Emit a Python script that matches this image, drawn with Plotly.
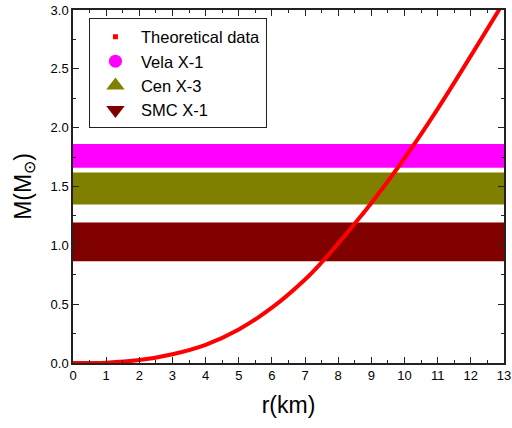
import plotly.graph_objects as go

# Theoretical mass-radius curve
r_km = [0, 1, 2, 3, 4, 5, 6, 7, 7.5, 8, 8.5, 9, 10, 11, 12, 13]
mass = [0, 0.003, 0.025, 0.075, 0.155, 0.285, 0.47, 0.71, 0.855, 1.015, 1.185, 1.36, 1.74, 2.16, 2.61, 3.07]

# Observed mass bands
band_names = ["Vela X-1", "Cen X-3", "SMC X-1"]
band_low = [1.66, 1.346, 0.865]
band_high = [1.862, 1.618, 1.193]
band_colors = ["#FF00FF", "#808000", "#800000"]
band_symbols = ["circle", "triangle-up", "triangle-down"]
band_sizes = [13, 20, 20]
r_range = [0, 13]

fig = go.Figure()

for name, lo, hi, col in zip(band_names, band_low, band_high, band_colors):
    fig.add_trace(go.Scatter(
        x=[r_range[0], r_range[1], r_range[1], r_range[0], r_range[0]],
        y=[lo, lo, hi, hi, lo],
        fill="toself", fillcolor=col, mode="lines", line=dict(width=0, color=col),
        showlegend=False, hoverinfo="skip"))

fig.add_trace(go.Scatter(x=r_km, y=mass, mode="lines", line=dict(color="#FF0000", width=4),
                         showlegend=False, line_shape="spline"))

# legend entries
fig.add_trace(go.Scatter(x=[None], y=[None], mode="markers", name="Theoretical data",
                         marker=dict(symbol="square", size=5, color="#FF0000")))
for name, col, sym, sz in zip(band_names, band_colors, band_symbols, band_sizes):
    fig.add_trace(go.Scatter(x=[None], y=[None], mode="markers", name=name,
                             marker=dict(symbol=sym, size=sz, color=col)))

axis_common = dict(showline=True, linecolor="#222", linewidth=1.5, mirror="ticks",
                   ticks="inside", ticklen=6, tickcolor="#222", showgrid=False, zeroline=False,
                   automargin=False, ticklabeloverflow="allow",
                   tickfont=dict(family="Arial, Liberation Sans", size=13, color="black"))

fig.update_xaxes(range=[0, 13], dtick=1, tick0=0,
                 title=dict(text="r(km)", font=dict(family="Arial, Liberation Sans", size=23, color="black"), standoff=15),
                 minor=dict(ticks="inside", ticklen=3, dtick=0.5, tickcolor="#222"),
                 **axis_common)
fig.update_yaxes(range=[0, 3.0], dtick=0.5, tick0=0, tickformat=".1f",
                 title=dict(text="M(M<sub>⊙</sub>)", font=dict(family="Arial, Liberation Sans", size=23, color="black"), standoff=13),
                 minor=dict(ticks="inside", ticklen=3, dtick=0.25, tickcolor="#222"),
                 **axis_common)

fig.update_layout(
    width=512, height=428,
    margin=dict(l=73, r=8, t=10, b=65),
    plot_bgcolor="white", paper_bgcolor="white",
    font=dict(family="Arial, Liberation Sans", color="black"),
    legend=dict(x=0.037, y=0.976, xanchor="left", yanchor="top",
                bordercolor="#222", borderwidth=1, bgcolor="white",
                font=dict(family="Arial, Liberation Sans", size=16.5, color="black"),
                itemwidth=41, tracegroupgap=0),
)

fig.write_html("out.html", config={"displayModeBar": False},
               post_script="document.body.style.margin='0';document.body.style.padding='0';")
